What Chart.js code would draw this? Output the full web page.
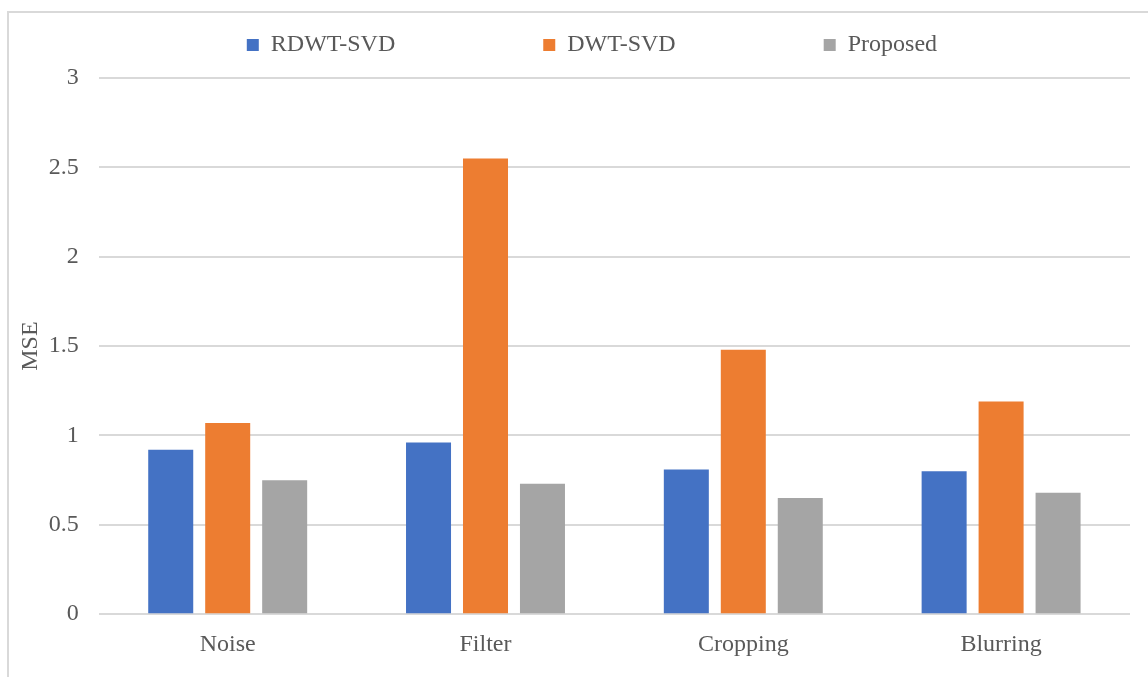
<!DOCTYPE html>
<html>
<head>
<meta charset="utf-8">
<script src="https://cdn.jsdelivr.net/npm/chart.js@4/dist/chart.umd.min.js"></script>
<style>
  html, body { margin: 0; padding: 0; background: #ffffff; }
  #wrap { position: relative; width: 1148px; height: 677px; overflow: hidden; }
  #frame {
    position: absolute; left: 7px; top: 11px; width: 1300px; height: 800px;
    border-left: 2px solid #d9d9d9; border-top: 2px solid #d9d9d9;
  }
  canvas { position: absolute; left: 0; top: 0; }
</style>
</head>
<body>
<div id="wrap">
  <div id="frame"></div>
  <canvas id="chart" width="1148" height="677"></canvas>
</div>
<script>
// Attack categories on the x axis
const categories = ['Noise', 'Filter', 'Cropping', 'Blurring'];

// MSE per method
const rdwtSvd  = [0.92, 0.96, 0.81, 0.80];
const dwtSvd   = [1.07, 2.55, 1.48, 1.19];
const proposed = [0.75, 0.73, 0.65, 0.68];

const seriesNames = ['RDWT-SVD', 'DWT-SVD', 'Proposed'];

// Value axis range
const yMin = 0;
const yMax = 3;
const yStep = 0.5;

const textColor = '#595959';
const gridColor = '#d9d9d9';
const fontFamily = '"Liberation Serif", "Times New Roman", serif';

// Legend row spacing: items sit high, plot starts lower
const LEGEND_GAP = 148;
const LEGEND_HEIGHT = 193;

const legendHeight = {
  id: 'legendHeight',
  afterInit(chart) {
    const legend = chart.legend;
    if (!legend) return;
    const fit = legend.fit;
    legend.fit = function () {
      fit.call(this);
      this.height = LEGEND_HEIGHT;
    };
  }
};

new Chart(document.getElementById('chart'), {
  type: 'bar',
  data: {
    labels: categories,
    datasets: [
      { label: seriesNames[0], data: rdwtSvd,  backgroundColor: '#4472C4' },
      { label: seriesNames[1], data: dwtSvd,   backgroundColor: '#ED7D31' },
      { label: seriesNames[2], data: proposed, backgroundColor: '#A5A5A5' }
    ]
  },
  options: {
    responsive: false,
    animation: false,
    events: [],
    categoryPercentage: 0.663,
    barPercentage: 0.79,
    layout: { padding: { top: -115, left: 12, right: 18, bottom: 2 } },
    plugins: {
      tooltip: { enabled: false },
      legend: {
        position: 'top',
        align: 'start',
        fullSize: false,
        labels: {
          boxWidth: 12,
          boxHeight: 12,
          padding: LEGEND_GAP,
          color: textColor,
          font: { family: fontFamily, size: 24 }
        }
      }
    },
    scales: {
      x: {
        grid: { display: false, drawTicks: false },
        border: { display: false },
        ticks: { color: textColor, padding: 16, font: { family: fontFamily, size: 24 } }
      },
      y: {
        min: yMin,
        max: yMax,
        grid: { color: gridColor, lineWidth: 2, drawTicks: false },
        border: { display: false },
        ticks: {
          stepSize: yStep,
          padding: 20,
          color: textColor,
          font: { family: fontFamily, size: 24 },
          callback: (value) => String(value)
        },
        title: {
          display: true,
          text: 'MSE',
          color: textColor,
          padding: { top: 4, bottom: -16 },
          font: { family: fontFamily, size: 24 }
        }
      }
    }
  },
  plugins: [legendHeight]
});
</script>
</body>
</html>
